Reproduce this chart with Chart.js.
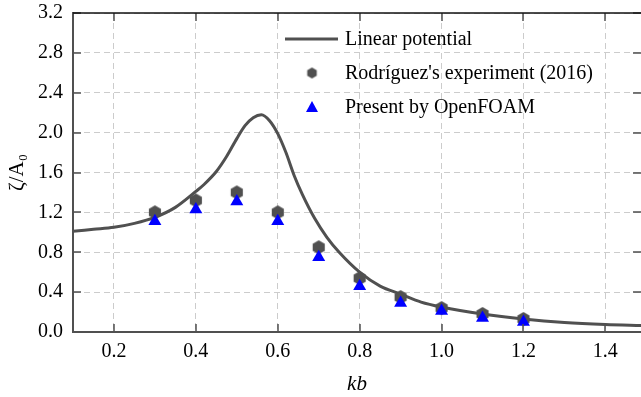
<!DOCTYPE html>
<html>
<head>
<meta charset="utf-8">
<script src="https://cdn.jsdelivr.net/npm/chart.js@4"></script>
<style>
  html, body { margin: 0; padding: 0; background: #fff; overflow: hidden; }
  #wrap { width: 641px; height: 397px; position: relative; }
</style>
</head>
<body>
<div id="wrap"><canvas id="resonance-chart" width="641" height="397"></canvas></div>
<script>
// linear potential curve
const curveKb = [0.10, 0.15, 0.20, 0.25, 0.30, 0.35, 0.40, 0.42, 0.45, 0.475, 0.50, 0.52, 0.54, 0.56, 0.58, 0.60, 0.62, 0.64, 0.66, 0.69, 0.72, 0.75, 0.80, 0.85, 0.90, 0.95, 1.00, 1.10, 1.20, 1.30, 1.40, 1.49];
const curveZeta = [1.01, 1.03, 1.05, 1.09, 1.15, 1.25, 1.41, 1.48, 1.61, 1.76, 1.94, 2.07, 2.15, 2.18, 2.12, 1.99, 1.80, 1.57, 1.38, 1.14, 0.95, 0.80, 0.60, 0.46, 0.38, 0.30, 0.25, 0.18, 0.13, 0.095, 0.075, 0.065];

// measurements
const pointKb = [0.3, 0.4, 0.5, 0.6, 0.7, 0.8, 0.9, 1.0, 1.1, 1.2];
const expZeta = [1.20, 1.32, 1.40, 1.20, 0.85, 0.54, 0.35, 0.24, 0.18, 0.13];
const cfdZeta = [1.11, 1.23, 1.31, 1.11, 0.75, 0.46, 0.29, 0.21, 0.14, 0.10];

const xTicks = [0.2, 0.4, 0.6, 0.8, 1.0, 1.2, 1.4];
const yTicks = [0.0, 0.4, 0.8, 1.2, 1.6, 2.0, 2.4, 2.8, 3.2];

const labels = ['Linear potential', "Rodríguez's experiment (2016)", 'Present by OpenFOAM'];

const serif = "'Liberation Serif', 'Times New Roman', serif";
const darkGray = '#505050';

function makeHex(r, color) {
    const c = document.createElement('canvas');
    const s = Math.ceil(r * 2 + 2);
    c.width = s; c.height = s;
    const g = c.getContext('2d');
    g.fillStyle = color;
    g.beginPath();
    for (let i = 0; i < 6; i++) {
        const a = Math.PI / 3 * i - Math.PI / 2;
        const px = s / 2 + Math.cos(a) * r, py = s / 2 + Math.sin(a) * r;
        if (i === 0) g.moveTo(px, py); else g.lineTo(px, py);
    }
    g.closePath();
    g.fill();
    return c;
}

const hexBig = makeHex(7, darkGray);
const hexSmall = makeHex(5.5, darkGray);

// inward ticks + top spine
const frameTicks = {
    id: 'frameTicks',
    afterDatasetsDraw(chart) {
        const {ctx, chartArea: a, scales: {x, y}} = chart;
        ctx.save();
        ctx.strokeStyle = darkGray;
        ctx.lineWidth = 1.5;
        ctx.beginPath();
        xTicks.forEach(v => {
            const px = Math.round(x.getPixelForValue(v));
            ctx.moveTo(px, a.bottom); ctx.lineTo(px, a.bottom - 8);
            ctx.moveTo(px, a.top); ctx.lineTo(px, a.top + 8);
        });
        yTicks.forEach(v => {
            const py = Math.round(y.getPixelForValue(v));
            ctx.moveTo(a.left, py); ctx.lineTo(a.left + 8, py);
            ctx.moveTo(a.right, py); ctx.lineTo(a.right - 8, py);
        });
        ctx.stroke();
        ctx.strokeStyle = '#111';
        ctx.beginPath();
        ctx.moveTo(a.left, a.top); ctx.lineTo(a.right, a.top);
        ctx.stroke();
        ctx.restore();
    }
};

// legend drawn inside the plot, no frame
const innerLegend = {
    id: 'innerLegend',
    afterDraw(chart) {
        const ctx = chart.ctx;
        const ds = chart.data.datasets;
        const textX = 345, markX = 312;
        const rows = [39, 73, 107];
        ctx.save();
        ctx.font = '20px ' + serif;
        ctx.fillStyle = '#000';
        ctx.textBaseline = 'middle';
        ctx.textAlign = 'left';

        ctx.strokeStyle = ds[0].borderColor;
        ctx.lineWidth = 3;
        ctx.beginPath();
        ctx.moveTo(285, rows[0]); ctx.lineTo(338, rows[0]);
        ctx.stroke();

        ctx.drawImage(hexSmall, markX - hexSmall.width / 2, rows[1] - hexSmall.height / 2);

        ctx.fillStyle = ds[2].backgroundColor;
        ctx.beginPath();
        ctx.moveTo(markX, rows[2] - 6);
        ctx.lineTo(markX + 6, rows[2] + 5);
        ctx.lineTo(markX - 6, rows[2] + 5);
        ctx.closePath();
        ctx.fill();

        ctx.fillStyle = '#000';
        ds.forEach((d, i) => ctx.fillText(d.label, textX, rows[i] + 1));
        ctx.restore();
    }
};

function noPad(s) {
    s.paddingTop = 0; s.paddingBottom = 0;
    s.paddingLeft = 0; s.paddingRight = 0;
}

const ctx = document.getElementById('resonance-chart').getContext('2d');

new Chart(ctx, {
    type: 'scatter',
    data: {
        datasets: [
            {
                label: labels[0],
                data: curveKb.map((k, i) => ({x: k, y: curveZeta[i]})),
                showLine: true,
                borderColor: darkGray,
                borderWidth: 3,
                pointRadius: 0,
                cubicInterpolationMode: 'monotone',
                order: 3
            },
            {
                label: labels[1],
                data: pointKb.map((k, i) => ({x: k, y: expZeta[i]})),
                pointStyle: hexBig,
                backgroundColor: darkGray,
                borderColor: darkGray,
                order: 2
            },
            {
                label: labels[2],
                data: pointKb.map((k, i) => ({x: k, y: cfdZeta[i]})),
                pointStyle: 'triangle',
                pointRadius: 7.5,
                backgroundColor: '#0000ff',
                borderColor: '#0000ff',
                borderWidth: 0,
                order: 1
            }
        ]
    },
    options: {
        responsive: false,
        animation: false,
        devicePixelRatio: 1,
        layout: { autoPadding: false, padding: { top: 13, right: 0, left: 0, bottom: 0 } },
        scales: {
            x: {
                type: 'linear',
                min: 0.1,
                max: 1.487,
                afterBuildTicks: s => { s.ticks = xTicks.map(v => ({value: v})); },
                afterFit: s => { s.height = 65; noPad(s); },
                grid: { color: '#cccccc', lineWidth: 1, drawTicks: false },
                border: { color: darkGray, width: 2, dash: [6, 4] },
                ticks: {
                    color: '#000',
                    padding: 8,
                    font: { family: serif, size: 20 },
                    callback: v => v.toFixed(1)
                },
                title: {
                    display: true,
                    text: 'kb',
                    color: '#000',
                    padding: { top: 0, bottom: 0 },
                    font: { family: serif, size: 21, style: 'italic' }
                }
            },
            y: {
                min: 0,
                max: 3.2,
                afterBuildTicks: s => { s.ticks = yTicks.map(v => ({value: v})); },
                afterFit: s => { s.width = 73; noPad(s); },
                grid: { color: '#cccccc', lineWidth: 1, drawTicks: false },
                border: { color: darkGray, width: 2, dash: [6, 4] },
                ticks: {
                    color: '#000',
                    padding: 10,
                    font: { family: serif, size: 20 },
                    callback: v => v.toFixed(1)
                },
                title: {
                    display: true,
                    text: 'ζ/A₀',
                    color: '#000',
                    padding: { top: 5, bottom: 0 },
                    font: { family: serif, size: 21 }
                }
            }
        },
        plugins: {
            legend: { display: false },
            tooltip: { enabled: false }
        }
    },
    plugins: [frameTicks, innerLegend]
});
</script>
</body>
</html>
